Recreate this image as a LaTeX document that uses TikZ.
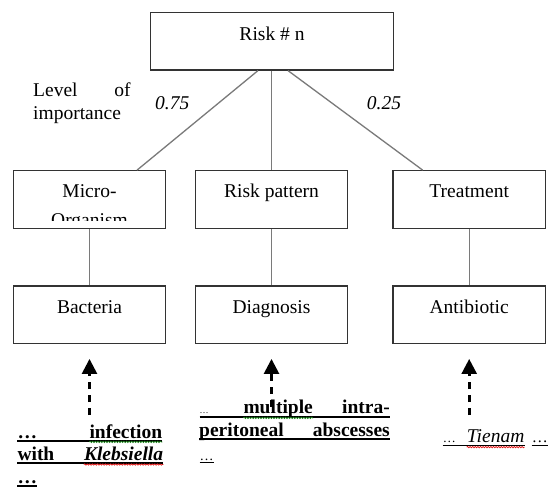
\documentclass[tikz,border=0pt]{standalone}
\usepackage{fontspec}
\setmainfont{Liberation Serif}
\usetikzlibrary{arrows.meta,decorations.pathmorphing}
\newcommand\myfs{\fontsize{19.5}{23}\selectfont}
\definecolor{boxc}{HTML}{333333}
\definecolor{linkc}{HTML}{7A7A7A}
\definecolor{spellg}{HTML}{1F8A1F}
\definecolor{spellr}{HTML}{E01010}
\tikzset{
  boxA/.style={draw=boxc, line width=1.2pt, inner sep=0pt, minimum width=152.5pt,
    text height=26.6pt, text depth=30.9pt, font=\myfs},
  boxB/.style={boxA, text height=27.3pt, text depth=30pt},
  lbl/.style={inner sep=0pt, font=\myfs},
  link/.style={draw=linkc, line width=1.3pt},
  evid/.style={draw=black, line width=2.6pt, dash pattern=on 7pt off 6pt,
    -{Triangle[width=15pt,length=15pt]}, shorten >=15pt},
  ulthick/.style={draw=black, line width=2pt},
  ulthin/.style={draw=black, line width=0.9pt},
  wavyg/.style={draw=spellg, line width=0.7pt, decorate,
    decoration={snake, amplitude=0.7pt, segment length=2.6pt}},
  wavyr/.style={wavyg, draw=spellr}
}
\begin{document}
\begin{tikzpicture}[x=1pt, y=-1pt]
\useasboundingbox[fill=white] (0,0) rectangle (552,487);

% boxes
\node[boxA, minimum width=242.6pt, text height=28.4pt, text depth=29.3pt] (risk) at (272,41.15) {Risk \# n};
\node[boxA] (micro) at (89.5,199.5) {Micro-};
\node[boxA] (pattern) at (271.5,199.5) {Risk pattern};
\node[boxA] (treat) at (469.2,199.5) {Treatment};
\node[boxB] (bact) at (89.5,314.7) {Bacteria};
\node[boxB] (diag) at (271.5,314.7) {Diagnosis};
\node[boxB] (anti) at (469.2,314.7) {Antibiotic};

\begin{scope}
  \clip (15,172) rectangle (165,220.7);
  \node[lbl, anchor=base] (organ) at (89.5,226) {Organism};
\end{scope}

% connectors
\draw[link] ([xshift=-14pt]risk.south) -- ([xshift=47.5pt]micro.north);
\draw[link] (pattern.north |- risk.south) -- (pattern.north);
\draw[link] ([xshift=16pt]risk.south) -- ([xshift=-46.5pt]treat.north);
\draw[link] (micro.south) -- (bact.north);
\draw[link] (pattern.south) -- (diag.north);
\draw[link] (treat.south) -- (anti.north);

% labels
\node[lbl, anchor=base west] (lev) at (33,96.7) {Level};
\node[lbl, anchor=base east] (of) at (130.7,96.7) {of};
\node[lbl, anchor=base west] (imp) at (33,119.3) {importance};
\node[lbl, anchor=base west] (w1) at (155,109.3) {\itshape 0.75};
\node[lbl, anchor=base west] (w2) at (366.7,109.3) {\itshape 0.25};

% evidence arrows
\coordinate (e1) at (89.5,415);
\coordinate (e2) at (271.5,406.7);
\coordinate (e3) at (469.2,415);
\draw[evid] (e1) -- (e1 |- bact.south);
\draw[evid] (e2) -- (e2 |- diag.south);
\draw[evid] (e3) -- (e3 |- anti.south);

% left evidence text
\node[lbl, anchor=base west] (l1a) at (17.3,438.3) {\bfseries …};
\node[lbl, anchor=base east] (l1b) at (162.3,438.3) {\bfseries infection};
\node[lbl, anchor=base west] (l2a) at (17.3,460) {\bfseries with};
\node[lbl, anchor=base east] (l2b) at (163.3,460) {\bfseries\itshape Klebsiella};
\node[lbl, anchor=base west] (l3) at (17.3,483.3) {\bfseries …};
\draw[ulthick] ([yshift=-2.4pt]l1a.base west) -- ([yshift=-2.4pt]l1b.base east);
\draw[wavyg] ([yshift=-3.6pt]l1b.base west) -- ([yshift=-3.6pt]l1b.base east);
\draw[ulthick] ([yshift=-3.3pt]l2a.base west) -- ([yshift=-3.3pt]l2b.base east);
\draw[wavyr] ([yshift=-4.5pt]l2b.base west) -- ([yshift=-4.5pt]l2b.base east);
\draw[ulthick] ([yshift=-2.4pt]l3.base west) -- ([yshift=-2.4pt]l3.base east);

% middle evidence text
\node[lbl, anchor=base west, font=\fontsize{9}{10}\selectfont] (m1a) at (199.5,413.3) {…};
\node[lbl, anchor=base west] (m1b) at (243.3,413.3) {\bfseries multiple};
\node[lbl, anchor=base east] (m1c) at (390,413.3) {\bfseries intra-};
\node[lbl, anchor=base west] (m2a) at (199,436) {\bfseries peritoneal};
\node[lbl, anchor=base east] (m2b) at (390,436) {\bfseries abscesses};
\node[lbl, anchor=base west, font=\fontsize{14}{16}\selectfont] (m3) at (199.5,460) {…};
\draw[ulthick] ([yshift=-3.4pt]m1a.base west) -- ([yshift=-3.4pt]m1c.base east);
\draw[wavyg] ([yshift=-4.6pt]m1b.base west) -- ([yshift=-4.6pt]m1b.base east);
\draw[ulthick] ([yshift=-3pt]m2a.base west) -- ([yshift=-3pt]m2b.base east);
\draw[ulthin] ([yshift=-2.7pt]m3.base west) -- ([yshift=-2.7pt]m3.base east);

% right evidence text
\node[lbl, anchor=base west, font=\fontsize{13}{15}\selectfont] (r1) at (442.7,442.7) {…};
\node[lbl, anchor=base west] (r2) at (466.7,442.7) {\itshape Tienam};
\node[lbl, anchor=base west, font=\fontsize{16}{18}\selectfont] (r3) at (531.7,442.7) {…};
\draw[ulthin] ([yshift=-3pt]r1.base west) -- ([yshift=-3pt]r2.base east);
\draw[wavyr] ([yshift=-4.4pt]r2.base west) -- ([yshift=-4.4pt]r2.base east);
\draw[ulthin] ([yshift=-3pt]r3.base west) -- ([yshift=-3pt]r3.base east);
\end{tikzpicture}
\end{document}
